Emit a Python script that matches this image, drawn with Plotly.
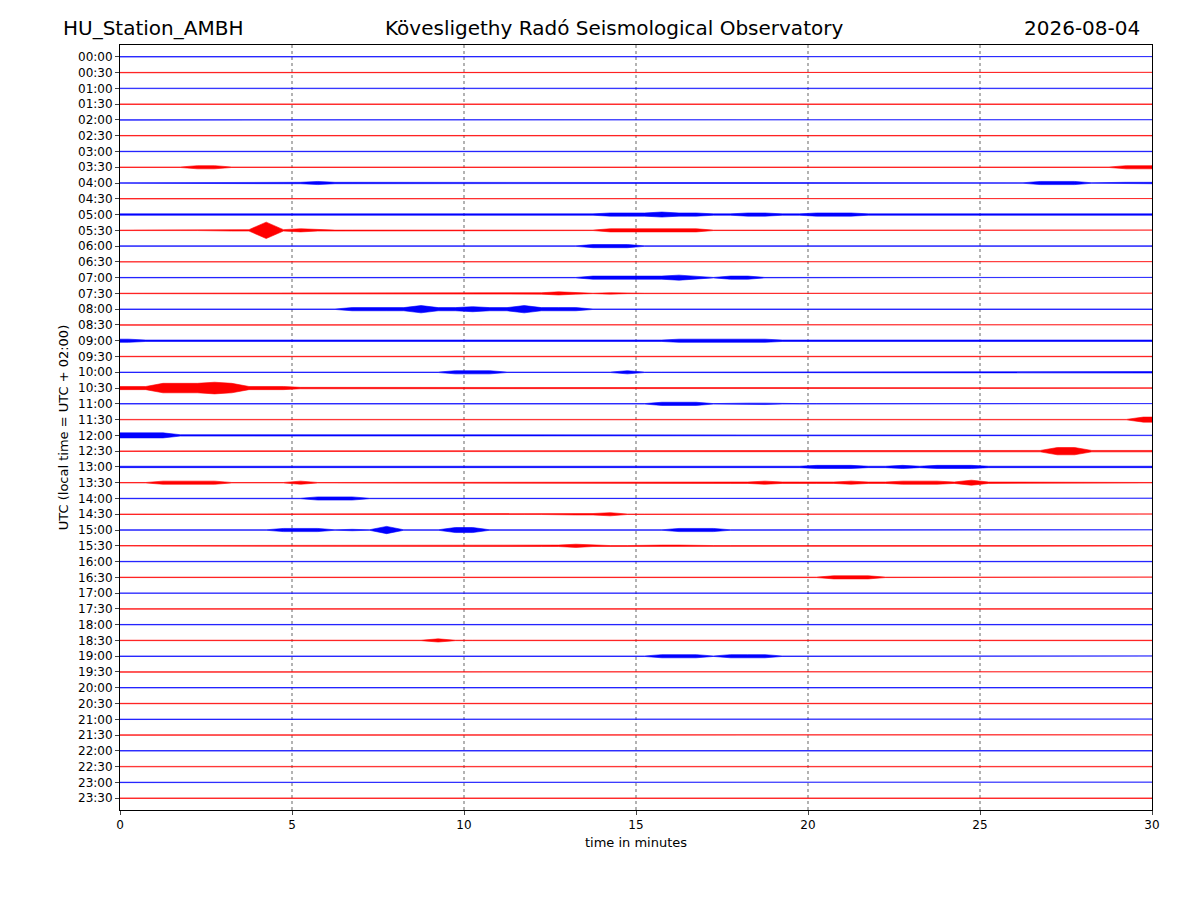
import plotly.graph_objects as go

# time labels of each trace line (UTC)
ROW_LABELS = [f"{h:02d}:{m:02d}" for h in range(24) for m in (0, 30)]

# envelope amplitude per half minute (6 groups of 10 = 30 minutes), digits 0-9
ENVELOPES = [
    "1111111111 1111111111 1111111111 1111111111 1111111111 1111111111",  # 00:00
    "1111111111 1111111111 1111111111 1111111111 1111111111 1111111111",  # 00:30
    "1111111111 2111111111 1111111111 1111111111 1111111111 1111211111",  # 01:00
    "1111111111 1111111111 1111111111 1111112111 1111112111 1111111211",  # 01:30
    "1111111111 1111111111 1111111111 1111111111 1111111111 1111111111",  # 02:00
    "1111111111 1111111111 1222122111 1111111111 1111111111 1111111111",  # 02:30
    "1111111111 1111111111 1111211111 1111111111 1111111111 1111111111",  # 03:00
    "1111331111 1111111111 1111222111 1111111111 1111111111 1111111133",  # 03:30
    "1111111122 2322211111 1111111111 1111121111 1111111111 1113331222",  # 04:00
    "1111111111 1111111111 1111111111 1111111111 1111111111 1111111111",  # 04:30
    "2222222222 2222222222 2222222233 3433223322 3332222222 2222222222",  # 05:00
    "1111112292 3211111111 1111111133 3333111111 1111111111 1111111111",  # 05:30
    "1111111111 1111112221 1111111333 1111112111 1111111111 1111111111",  # 06:00
    "1111111111 1111111111 1111111111 1111111111 1111111111 1111111111",  # 06:30
    "1111111111 1111111111 1111111333 3343133111 1111111111 1111111111",  # 07:00
    "1111111111 2211111111 1122232121 1111111111 1111111111 1111111111",  # 07:30
    "1111111111 1113333533 4335333111 1121111111 1111211111 1111111111",  # 08:00
    "1111111111 1111111111 1111111111 1111111111 1111111111 1111111111",  # 08:30
    "3222222222 2222222222 2222222222 2233333322 2222222222 2222222222",  # 09:00
    "1111111111 1111111122 2222222222 2221111111 1111211111 1111111111",  # 09:30
    "1111111111 1111111113 3311111113 1111111111 1111111111 1111111112",  # 10:00
    "3366676333 2222221111 1111111111 1111111111 1111111111 1111111111",  # 10:30
    "1111111111 1111111111 1111111111 1333122211 1111111111 1111111111",  # 11:00
    "1111121111 1111111111 1111211111 2111111111 1111111111 1111111114",  # 11:30
    "4442222222 2222222111 1111111111 1111111111 1111111111 1111111111",  # 12:00
    "1111111111 1111111111 1111111111 1111111111 1111111111 1122552222",  # 12:30
    "2222222222 2222222222 2222222222 2222222222 3332232333 2222222222",  # 13:00
    "1133331111 3111111111 1111111111 2222222322 2232233324 2211111111",  # 13:30
    "1111111111 1333111111 1111111111 1111111111 1111111111 1111111111",  # 14:00
    "1111111111 1111111111 1111112231 1111111111 1111111111 1111111111",  # 14:30
    "1111111113 3312151114 4111111111 1133311111 1111111111 1111111111",  # 15:00
    "1111111111 1111111111 1112223211 2221111111 1111111111 1111121111",  # 15:30
    "1111111111 1112111111 1111111111 1111111111 1111111111 1111111111",  # 16:00
    "1111111111 1111111111 1111111111 2222222111 1333111111 1111111111",  # 16:30
    "1111111111 1111111111 1111111111 2222222111 1111111111 1111111111",  # 17:00
    "1111111111 1111111111 1111111211 1121111111 1111111111 1111111111",  # 17:30
    "1111111111 1111111111 1111111111 1111111111 1111111111 1121111111",  # 18:00
    "1121111111 1111111131 1111111111 1122222211 1111111111 1111111111",  # 18:30
    "1111111111 1111111111 1111111111 1333133311 1111111111 1111111111",  # 19:00
    "1111111111 1111111111 1111111111 1111111111 1111111111 1111111111",  # 19:30
    "1111211111 1111111111 1111111111 1111111111 1111111111 1111111111",  # 20:00
    "1111111111 1111111111 1111111111 1111111111 2111111111 1111111111",  # 20:30
    "1111111111 1111111111 1111111111 1111111111 1111111111 1111111111",  # 21:00
    "1111111111 1111111111 1111111111 1111111111 1111111111 1111111111",  # 21:30
    "1111111111 1111111111 1111111111 1112221111 1111111111 1111111111",  # 22:00
    "1111111111 1111111111 1111111111 1111111112 1111111111 1111111111",  # 22:30
    "1111111111 1111111111 1111111111 1111111111 1111111111 1111111111",  # 23:00
    "1111111111 1112111111 1111111111 1111111111 1111111111 1111111111",  # 23:30
]

# digit -> half height in trace units (1 unit = distance between lines)
AMP_SCALE = [0, 0.015, 0.045, 0.1, 0.16, 0.23, 0.3, 0.37, 0.44, 0.52]
COLORS = ["blue", "red"]

fig = go.Figure()

for i, (lab, env) in enumerate(zip(ROW_LABELS, ENVELOPES)):
    vals = [AMP_SCALE[int(c)] for c in env.replace(" ", "")]
    xs = [k * 0.5 + 0.25 for k in range(len(vals))]
    xs = [0.0] + xs + [30.0]
    vals = [vals[0]] + vals + [vals[-1]]
    upper = [i - a for a in vals]
    lower = [i + a for a in vals]
    fig.add_trace(go.Scatter(
        x=xs + xs[::-1], y=upper + lower[::-1],
        mode="lines", fill="toself", fillcolor=COLORS[i % 2],
        line=dict(color=COLORS[i % 2], width=0.6),
        hoverinfo="skip", showlegend=False))

# dotted vertical grid
for xv in [5, 10, 15, 20, 25]:
    fig.add_shape(type="line", x0=xv, x1=xv, y0=0, y1=1, yref="paper",
                  line=dict(color="black", width=0.6, dash="dot"), layer="below")

font = dict(family="DejaVu Sans", color="black")
plot_h = 900 - 37 - 98
for txt, xp, anchor in [("HU_Station_AMBH", (53 - 112) / 1032, "left"),
                        ("Kövesligethy Radó Seismological Observatory", (606 - 112) / 1032, "center"),
                        ("2026-08-04", (1134 - 112) / 1032, "right")]:
    fig.add_annotation(text=txt, x=xp, y=1 + 17 / plot_h, xref="paper", yref="paper",
                       xanchor=anchor, yanchor="middle", showarrow=False,
                       font=dict(size=20, **font))

fig.update_layout(
    width=1200, height=900,
    margin=dict(l=112, r=56, t=37, b=98),
    plot_bgcolor="white", paper_bgcolor="white",
    font=dict(size=12, **font),
    xaxis=dict(range=[0, 30], tickvals=[0, 5, 10, 15, 20, 25, 30],
               showgrid=False, zeroline=False, showline=True, mirror=True,
               linecolor="black", ticks="outside", ticklen=4,
               title=dict(text="time in minutes", standoff=6, font=dict(size=13))),
    yaxis=dict(range=[47.75, -0.75], tickvals=list(range(48)), ticktext=ROW_LABELS,
               showgrid=False, zeroline=False, showline=True, mirror=True,
               linecolor="black", ticks="outside", ticklen=4,
               title=dict(text="UTC (local time = UTC + 02:00)", standoff=6, font=dict(size=13))),
)

fig.write_html("out.html")
